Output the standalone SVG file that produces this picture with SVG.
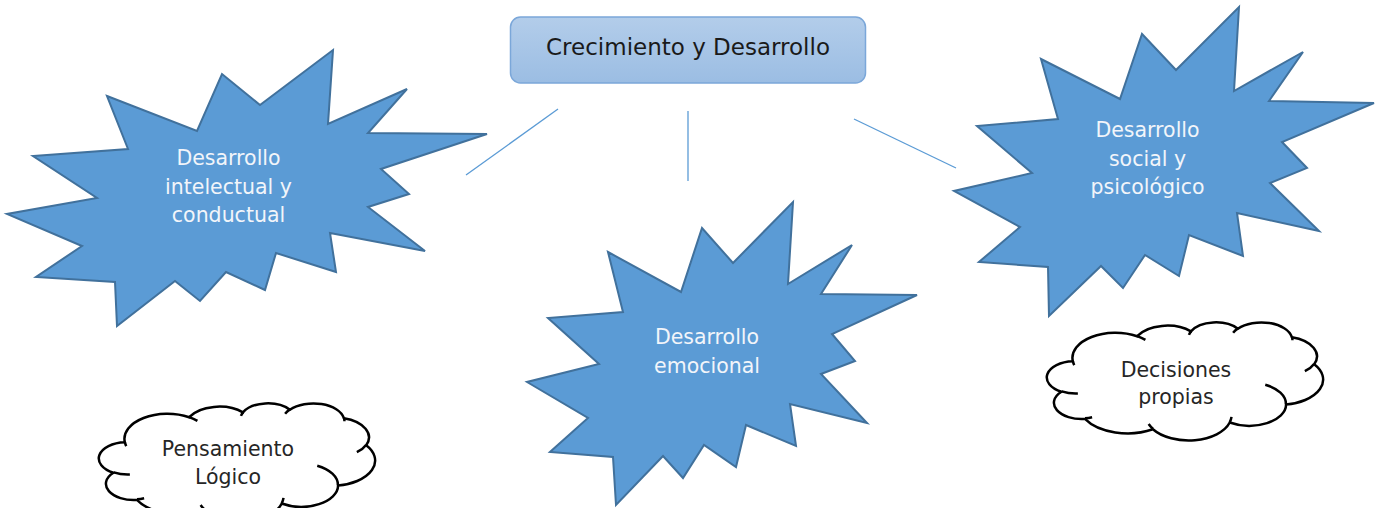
<svg xmlns="http://www.w3.org/2000/svg" width="1382" height="508" viewBox="0 0 1382 508">
<style>
.star{fill:#5b9bd5;stroke:#41719c;stroke-width:2;stroke-linejoin:miter}
.st{font-family:"DejaVu Sans","Liberation Sans",sans-serif;font-size:20.5px;fill:#f2f5fa;text-anchor:middle}
.ct{font-family:"DejaVu Sans","Liberation Sans",sans-serif;font-size:20.5px;fill:#262626;text-anchor:middle}
.cloud{fill:#ffffff;stroke:#000000;stroke-width:2.5;vector-effect:non-scaling-stroke}
.hook{fill:none;stroke:#000000;stroke-width:2.5;vector-effect:non-scaling-stroke}
.conn{stroke:#5b9bd5;stroke-width:1.3;fill:none}
</style>
<defs>
<linearGradient id="boxg" x1="0" y1="0" x2="0" y2="1">
<stop offset="0" stop-color="#b3cdea"/>
<stop offset="1" stop-color="#9bbde3"/>
</linearGradient>
<g id="cloudshape">
<path class="cloud" d="M9.03,33.26 A15.63 21.27 0 0 1 32.42 12.04 A12.34 16.82 0 0 1 51.98 7.94 A10.10 13.76 0 0 1 69.05 5.74 A11.24 15.27 0 0 1 88.69 12.90 A12.34 16.84 0 0 1 96.80 35.78 A15.68 21.34 0 0 1 86.58 69.91 A13.39 18.21 0 0 1 66.09 85.21 A15.63 21.33 0 0 1 38.14 90.88 A17.87 24.41 0 0 1 13.43 82.10 A10.09 13.70 0 0 1 4.88 59.13 A10.06 13.76 0 0 1 9.03 33.26 Z"/>
<path class="hook" d="M10.86,60.59 A10.06 13.76 0 0 1 5.00 58.75 M16.04,80.78 A10.09 13.70 0 0 1 13.47 81.67 M38.14,90.49 A15.63 21.33 0 0 1 36.60 86.46 M66.73,80.44 A15.63 21.33 0 0 1 66.11 84.87 M79.00,53.13 A13.39 18.21 0 0 1 86.53 69.65 M96.75,35.54 A12.34 16.84 0 0 1 93.40 41.73 M88.71,12.56 A11.24 15.27 0 0 1 88.89 15.49 M67.31,9.15 A11.24 15.27 0 0 1 69.03 5.42 M51.25,10.93 A10.10 13.76 0 0 1 52.08 7.71 M32.41,12.02 A15.63 21.27 0 0 1 35.42 15.14 M9.55,36.55 A15.63 21.27 0 0 1 9.03 33.27"/>
</g>
</defs>
<rect width="1382" height="508" fill="#ffffff"/>
<g id="connectors">
<line class="conn" x1="558" y1="109" x2="466" y2="175"/>
<line class="conn" x1="688" y1="111" x2="688" y2="181"/>
<line class="conn" x1="854" y1="119" x2="956" y2="168"/>
</g>
<g id="top">
<rect x="510.5" y="17" width="355" height="66" rx="10" fill="url(#boxg)" stroke="#7ba7d9" stroke-width="1.5"/>
<text x="688" y="55" font-family="DejaVu Sans, Liberation Sans, sans-serif" font-size="23" fill="#1a1a1a" text-anchor="middle">Crecimiento y Desarrollo</text>
</g>
<g id="star-left">
<polygon class="star" points="107,96 197,131 222,74 260,105 333,50 328,124 407,89 368,133 487,134 381,169 409,194 368,207 425,251 330,233 336,272 276,253 265,290 226,272 200,301 175,281 117,326 115,282 36,277 82,246 7,214 97,198 33,156 128,149"/>
<text class="st" x="228.5" y="165">Desarrollo</text>
<text class="st" x="228.5" y="193.5">intelectual y</text>
<text class="st" x="228.5" y="222">conductual</text>
</g>
<g id="star-middle">
<polygon class="star" points="608,252 681,292 702,228 733,263 793,202 788,284 852,245 821,294 917,295 832,334 855,361 821,374 867,423 790,404 796,446 746,425 736,467 704,445 683,478 663,456 616,505 613,457 550,452 588,418 527,382 599,364 548,318 623,312"/>
<text class="st" x="707" y="344">Desarrollo</text>
<text class="st" x="707" y="373">emocional</text>
</g>
<g id="star-right">
<polygon class="star" points="1041,59 1120,99 1142,34 1176,70 1239,7 1234,91 1303,52 1269,101 1374,103 1282,142 1307,168 1270,183 1319,231 1237,213 1243,256 1189,235 1179,276 1145,255 1123,288 1101,266 1049,316 1048,267 979,262 1020,227 954,191 1032,173 977,126 1058,119"/>
<text class="st" x="1147.5" y="137">Desarrollo</text>
<text class="st" x="1147.5" y="166">social y</text>
<text class="st" x="1147.5" y="194">psicológico</text>
</g>
<g id="cloud-left">
<use href="#cloudshape" transform="translate(100,403) scale(2.75,1.18)"/>
<text class="ct" x="228" y="456">Pensamiento</text>
<text class="ct" x="228" y="484">Lógico</text>
</g>
<g id="cloud-right">
<use href="#cloudshape" transform="translate(1048,322) scale(2.75,1.18)"/>
<text class="ct" x="1176" y="377">Decisiones</text>
<text class="ct" x="1176" y="404">propias</text>
</g>
</svg>
